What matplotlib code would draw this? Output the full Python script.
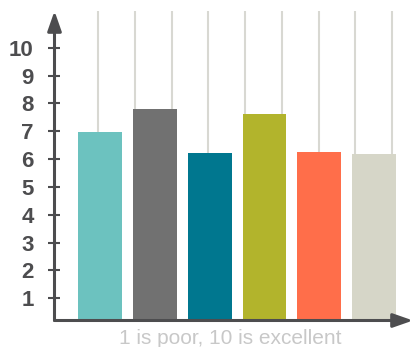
import numpy as np
import matplotlib

matplotlib.use('Agg')
import matplotlib.pyplot as plt

# ratings per item, 1 is poor, 10 is excellent
items = ['A', 'B', 'C', 'D', 'E', 'F']
scores = [6.97, 7.80, 6.22, 7.62, 6.25, 6.18]
bar_colors = ['#6cc2bf', '#717171', '#00778f', '#b2b42c', '#ff6e4a', '#d6d6c8']
y_ticks = list(range(1, 11))
x_title = '1 is poor, 10 is excellent'

axis_color = '#4d4d4f'
grid_color = '#d8d8d2'

W, H = 414, 347
fig = plt.figure(figsize=(W / 100, H / 100), dpi=100)
ax = fig.add_axes([54.5 / W, (H - 320.5) / H, (413 - 54.5) / W, (320.5 - 11) / H])

x = np.arange(len(items))
# decorative vertical rules behind the bars
ax.vlines(np.linspace(-0.036, 5.33, 9), 0, 1, transform=ax.get_xaxis_transform(),
          color=grid_color, lw=1.5, zorder=1)
ax.bar(x, scores, width=0.80, color=bar_colors, zorder=2)

ax.set_xlim(-0.83, 5.71)
ax.set_ylim(0.2, 11.32)
for s in ax.spines.values():
    s.set_visible(False)

ax.set_xticks([])
ax.set_yticks(y_ticks, labels=[str(t) for t in y_ticks], fontfamily='Liberation Sans',
              fontweight='bold', fontsize=16)
ax.tick_params(axis='y', direction='inout', length=8, width=1.5, color=axis_color,
               pad=11, labelcolor=axis_color)

arrow = dict(arrowstyle='-|>,head_length=1.2,head_width=0.42', lw=2.2, color=axis_color,
             shrinkA=0, shrinkB=0, mutation_scale=10)
ax.annotate('', xy=(0, 1), xytext=(0, 0), xycoords='axes fraction', arrowprops=arrow,
            annotation_clip=False)
ax.annotate('', xy=(1, 0), xytext=(0, 0), xycoords='axes fraction', arrowprops=arrow,
            annotation_clip=False)

fig.text(230 / W, (H - 344) / H, x_title, ha='center', va='baseline', color='#c8c8c8',
         fontsize=15, fontfamily='Liberation Sans')

fig.savefig('out.png', dpi=100)
